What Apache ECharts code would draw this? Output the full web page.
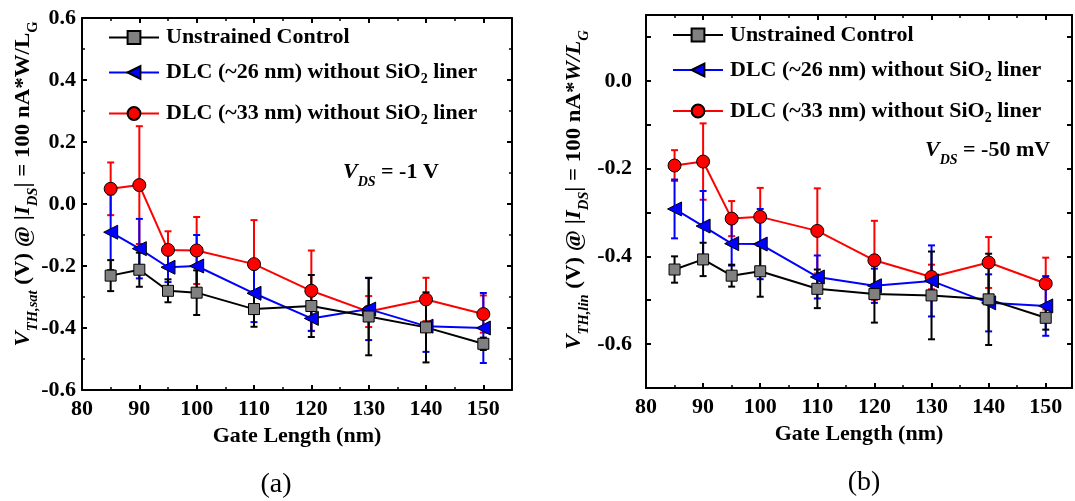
<!DOCTYPE html>
<html><head><meta charset="utf-8">
<script src="https://cdn.jsdelivr.net/npm/echarts@6/dist/echarts.min.js"></script>
<style>html,body{margin:0;padding:0;background:#fff}#c{width:1075px;height:501px}</style>
</head><body><div id="c"></div>
<script>
// ---------- data ----------
const gateLength = [85, 90, 95, 100, 110, 120, 130, 140, 150];
const xTickLabels = [80, 90, 100, 110, 120, 130, 140, 150];
const yTickLabelsA = [-0.6, -0.4, -0.2, 0.0, 0.2, 0.4, 0.6];
const yTickLabelsB = [-0.6, -0.4, -0.2, 0.0];
const seriesNames = ['Unstrained Control', 'DLC (~26 nm) without SiO2 liner', 'DLC (~33 nm) without SiO2 liner'];

// (a) V_DS = -1 V  (V_TH,sat)
const satControl    = [-0.231, -0.212, -0.280, -0.286, -0.339, -0.329, -0.363, -0.398, -0.451];
const satControlErr = [0.050, 0.055, 0.037, 0.072, 0.057, 0.100, 0.125, 0.113, 0.020];
const satDlc26      = [-0.091, -0.144, -0.204, -0.200, -0.288, -0.369, -0.339, -0.394, -0.400];
const satDlc26Err   = [0.122, 0.096, 0.048, 0.100, 0.093, 0.040, 0.100, 0.083, 0.113];
const satDlc33      = [0.049, 0.061, -0.148, -0.150, -0.194, -0.280, -0.347, -0.308, -0.355];
const satDlc33Err   = [0.085, 0.190, 0.060, 0.108, 0.142, 0.130, 0.050, 0.070, 0.060];

// (b) V_DS = -50 mV  (V_TH,lin)
const linControl    = [-0.430, -0.407, -0.444, -0.434, -0.474, -0.486, -0.489, -0.498, -0.540];
const linControlErr = [0.030, 0.038, 0.025, 0.058, 0.044, 0.065, 0.100, 0.104, 0.027];
const linDlc26      = [-0.292, -0.331, -0.371, -0.372, -0.447, -0.467, -0.456, -0.506, -0.513];
const linDlc26Err   = [0.067, 0.080, 0.050, 0.080, 0.049, 0.039, 0.081, 0.065, 0.068];
const linDlc33      = [-0.193, -0.184, -0.314, -0.310, -0.342, -0.409, -0.447, -0.414, -0.462];
const linDlc33Err   = [0.035, 0.087, 0.040, 0.066, 0.097, 0.090, 0.028, 0.058, 0.059];

// ---------- styling ----------
const FF = 'Liberation Serif';
const styles = [
  {color: '#000000', fill: '#808080', symbol: 'rect', size: 11, rotate: 0},
  {color: '#0000ff', fill: '#0000ff', symbol: 'triangle', size: 14, rotate: 90},
  {color: '#ff0000', fill: '#ff0000', symbol: 'circle', size: 13, rotate: 0}
];
const panels = [
  {vals: [satControl, satDlc26, satDlc33], errs: [satControlErr, satDlc26Err, satDlc33Err]},
  {vals: [linControl, linDlc26, linDlc33], errs: [linControlErr, linDlc26Err, linDlc33Err]}
];

const richMain = {
  n:  {fontFamily: FF, fontWeight: 'bold', fontSize: 22, lineHeight: 28, verticalAlign: 'middle', color: '#000'},
  s:  {fontFamily: FF, fontWeight: 'bold', fontSize: 14, lineHeight: 8, verticalAlign: 'bottom', color: '#000'}
};
const richTitle = {
  m:  {fontFamily: FF, fontWeight: 'bold', fontSize: 22, lineHeight: 34, verticalAlign: 'middle', color: '#000'},
  mi: {fontFamily: FF, fontWeight: 'bold', fontStyle: 'italic', fontSize: 22, lineHeight: 34, verticalAlign: 'middle', color: '#000'},
  s:  {fontFamily: FF, fontWeight: 'bold', fontSize: 14, lineHeight: 10, verticalAlign: 'bottom', color: '#000'},
  si: {fontFamily: FF, fontWeight: 'bold', fontStyle: 'italic', fontSize: 14, lineHeight: 10, verticalAlign: 'bottom', color: '#000'}
};

function legendFmt(name) {
  if (name.indexOf('SiO2') < 0) return '{n|' + name + '}';
  const parts = name.split('SiO2');
  return '{n|' + parts[0] + 'SiO}{s|2}{n|' + parts[1] + '}';
}

function errRender(color) {
  return function (params, api) {
    const x = api.value(0);
    const lo = api.coord([x, api.value(1)]);
    const hi = api.coord([x, api.value(2)]);
    const hw = 3.5;
    const st = {stroke: color, lineWidth: 2};
    return {type: 'group', children: [
      {type: 'line', shape: {x1: lo[0], y1: lo[1], x2: hi[0], y2: hi[1]}, style: st},
      {type: 'line', shape: {x1: lo[0] - hw, y1: lo[1], x2: lo[0] + hw, y2: lo[1]}, style: st},
      {type: 'line', shape: {x1: hi[0] - hw, y1: hi[1], x2: hi[0] + hw, y2: hi[1]}, style: st}
    ]};
  };
}

const grids = [
  {left: 82, top: 18, width: 430, height: 372},
  {left: 646, top: 15, width: 427, height: 373}
];
const xMax = [155, 154.6];

const tickStyle = {show: true, inside: true, length: 5, lineStyle: {color: '#000', width: 2}};
const axisLine = {show: true, onZero: false, lineStyle: {color: '#000', width: 2}};
const labelStyle = {fontFamily: FF, fontWeight: 'bold', fontSize: 22, color: '#000'};

const xAxis = [], yAxis = [];
[0, 1].forEach(p => {
  xAxis.push({
    type: 'value', gridIndex: p, position: 'bottom', min: 80, max: xMax[p], interval: 10,
    axisLine, axisTick: tickStyle, splitLine: {show: false},
    minorTick: {show: true, splitNumber: 2, length: 3, lineStyle: {color: '#000', width: 1.5}},
    axisLabel: Object.assign({margin: 8, showMaxLabel: true,
      formatter: v => xTickLabels.some(t => Math.abs(t - v) < 1e-6) ? String(Math.round(v)) : ''}, labelStyle),
    name: 'Gate Length (nm)', nameLocation: 'middle', nameGap: 35,
    nameTextStyle: {fontFamily: FF, fontWeight: 'bold', fontSize: 22, color: '#000'}
  });
  xAxis.push({
    type: 'value', gridIndex: p, position: 'top', min: 80, max: xMax[p], interval: 10,
    axisLine, axisTick: tickStyle, splitLine: {show: false}, axisLabel: {show: false},
    minorTick: {show: true, splitNumber: 2, length: 3, lineStyle: {color: '#000', width: 1.5}}
  });
});
// panel a y axes
yAxis.push({
  type: 'value', gridIndex: 0, position: 'left', min: -0.6, max: 0.6, interval: 0.2,
  axisLine, axisTick: tickStyle, splitLine: {show: false},
  minorTick: {show: true, splitNumber: 2, length: 3, lineStyle: {color: '#000', width: 1.5}},
  axisLabel: Object.assign({margin: 6,
    formatter: v => { const t = yTickLabelsA.find(t => Math.abs(t - v) < 1e-6); return t === undefined ? '' : (Math.abs(t) < 1e-9 ? '0.0' : t.toFixed(1)); }}, labelStyle)
});
yAxis.push({
  type: 'value', gridIndex: 0, position: 'right', min: -0.6, max: 0.6, interval: 0.2,
  axisLine, axisTick: tickStyle, splitLine: {show: false}, axisLabel: {show: false},
  minorTick: {show: true, splitNumber: 2, length: 3, lineStyle: {color: '#000', width: 1.5}}
});
// panel b y axes
yAxis.push({
  type: 'value', gridIndex: 1, position: 'left', min: -0.7, max: 0.15, interval: 0.1,
  axisLine, axisTick: tickStyle, splitLine: {show: false},
  axisLabel: Object.assign({margin: 14, showMaxLabel: false,
    formatter: v => { const t = yTickLabelsB.find(t => Math.abs(t - v) < 1e-6); return t === undefined ? '' : (Math.abs(t) < 1e-9 ? '0.0' : t.toFixed(1)); }}, labelStyle)
});
yAxis.push({
  type: 'value', gridIndex: 1, position: 'right', min: -0.7, max: 0.15, interval: 0.1,
  axisLine, axisTick: tickStyle, splitLine: {show: false}, axisLabel: {show: false}
});

const series = [];
[0, 1].forEach(p => {
  const order = [2, 1, 0]; // red bottom, black top
  order.forEach(k => {
    const vals = panels[p].vals[k], errs = panels[p].errs[k];
    series.push({
      type: 'custom', name: seriesNames[k] + ' err', xAxisIndex: p * 2, yAxisIndex: p * 2,
      renderItem: errRender(styles[k].color), z: 2, silent: true,
      encode: {x: 0, y: [1, 2]},
      data: gateLength.map((x, i) => [x, vals[i] - errs[i], vals[i] + errs[i]])
    });
  });
  order.forEach(k => {
    const vals = panels[p].vals[k];
    series.push({
      type: 'line', name: seriesNames[k], xAxisIndex: p * 2, yAxisIndex: p * 2, z: 3,
      data: gateLength.map((x, i) => [x, vals[i]]),
      symbol: styles[k].symbol, symbolSize: styles[k].size, symbolRotate: styles[k].rotate,
      showAllSymbol: true, animation: false,
      lineStyle: {color: styles[k].color, width: 2},
      itemStyle: {color: styles[k].fill, borderColor: '#000', borderWidth: 1}
    });
  });
});

// legends: one per row per panel
const legendRows = [
  {left: 108, centers: [35.5, 70.5, 111.5]},
  {left: 672, centers: [33, 68, 109]}
];
const legend = [];
legendRows.forEach(r => {
  seriesNames.forEach((nm, k) => {
    legend.push({
      data: [nm], left: r.left, top: r.centers[k] - 9, padding: 0,
      itemWidth: 50, itemHeight: 16, selectedMode: false,
      formatter: legendFmt,
      textStyle: {color: '#000', rich: richMain, padding: [0, 0, 0, 2]}
    });
  });
});

const graphic = [
  {type: 'text', x: 23, y: 184, rotation: Math.PI / 2, scaleX: 1.04,
   style: {text: '{mi|V}{si|TH,sat}{m| (V) @ |}{mi|I}{si|DS}{m|| = 100 nA*W/L}{s|G}', rich: richTitle, align: 'center', verticalAlign: 'middle'}},
  {type: 'text', x: 574, y: 190, rotation: Math.PI / 2, scaleX: 1.04,
   style: {text: '{mi|V}{si|TH,lin}{m| (V) @ |}{mi|I}{si|DS}{m|| = 100 nA*}{mi|W/L}{si|G}', rich: richTitle, align: 'center', verticalAlign: 'middle'}},
  {type: 'text', x: 343, y: 172,
   style: {text: '{mi|V}{si|DS}{m| = -1 V}', rich: richTitle, align: 'left', verticalAlign: 'middle'}},
  {type: 'text', x: 925, y: 150,
   style: {text: '{mi|V}{si|DS}{m| = -50 mV}', rich: richTitle, align: 'left', verticalAlign: 'middle'}},
  {type: 'text', x: 276, y: 485,
   style: {text: '(a)', font: '28px "Liberation Serif"', fill: '#000', align: 'center', verticalAlign: 'middle'}},
  {type: 'text', x: 864, y: 483,
   style: {text: '(b)', font: '28px "Liberation Serif"', fill: '#000', align: 'center', verticalAlign: 'middle'}}
];

const chart = echarts.init(document.getElementById('c'), null, {renderer: 'canvas'});
chart.setOption({
  backgroundColor: '#ffffff',
  animation: false,
  grid: grids.map(g => Object.assign({show: false}, g)),
  xAxis, yAxis, series, legend, graphic
});
</script>
</body></html>
